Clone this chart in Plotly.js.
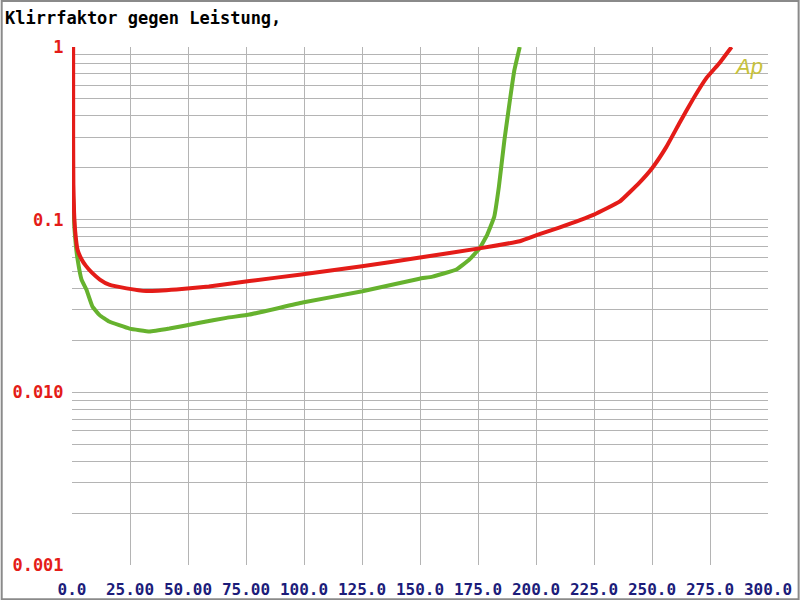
<!DOCTYPE html>
<html>
<head>
<meta charset="utf-8">
<script src="https://cdn.plot.ly/plotly-3.0.1.min.js"></script>
<style>html,body{margin:0;padding:0;background:#fff;}#chart{width:800px;height:600px;}</style>
</head>
<body>
<div id="chart"></div>
<script>
// Power (W) vs THD — red channel
const powerRed = [0.5, 0.5, 0.6, 0.9, 1.4, 2.4, 4.1, 6.0, 8.8, 12, 16, 23.5, 32, 45, 59, 76.5, 98, 125, 150, 175.6, 193, 201.5, 210, 225, 236, 244.6, 250.2, 256.2, 261.9, 267.5, 273.5, 279.1, 284.3];
const thdRed = [1.0, 0.3, 0.16, 0.11, 0.085, 0.067, 0.059, 0.054, 0.049, 0.045, 0.042, 0.040, 0.0386, 0.0394, 0.041, 0.0441, 0.048, 0.0537, 0.0603, 0.0682, 0.075, 0.0825, 0.09, 0.107, 0.127, 0.164, 0.20, 0.264, 0.364, 0.494, 0.662, 0.808, 1.0];
// green channel
const powerGreen = [0.3, 0.6, 1.1, 1.7, 2.4, 4.1, 6.2, 8.8, 11.9, 16, 24.8, 33.4, 42, 55, 66.6, 76.5, 99.4, 125.2, 149.8, 155.4, 165.7, 171.3, 175.6, 179, 182, 184, 186.4, 188.6, 190.7, 193];
const thdGreen = [0.155, 0.12, 0.087, 0.07, 0.059, 0.045, 0.0394, 0.0314, 0.028, 0.0257, 0.0234, 0.0225, 0.0234, 0.0253, 0.027, 0.0282, 0.0331, 0.0385, 0.0455, 0.0468, 0.0515, 0.0588, 0.068, 0.082, 0.104, 0.155, 0.29, 0.475, 0.736, 1.0];

const xTickVals = [0, 25, 50, 75, 100, 125, 150, 175, 200, 225, 250, 275, 300];
const xTickText = ["0.0", "25.00", "50.00", "75.00", "100.0", "125.0", "150.0", "175.0", "200.0", "225.0", "250.0", "275.0", "300.0"];
const yDecades = [0.001, 0.01, 0.1, 1];
const yDecadeText = ["0.001", "0.010", "0.1", "1"];

// build y grid (all 1..9 multiples) with labels only on decades
const yTickVals = [];
const yTickText = [];
for (let d = 0; d < yDecades.length; d++) {
  const base = yDecades[d];
  const maxM = (d === yDecades.length - 1) ? 1 : 9;
  for (let m = 1; m <= maxM; m++) {
    yTickVals.push(base * m);
    yTickText.push(m === 1 ? yDecadeText[d] : "");
  }
}

const traces = [
  {x: powerGreen, y: thdGreen, type: 'scatter', mode: 'lines',
   line: {color: '#66b22e', width: 4, shape: 'spline', smoothing: 0.3}, hoverinfo: 'skip'},
  {x: powerRed, y: thdRed, type: 'scatter', mode: 'lines',
   line: {color: '#e41c18', width: 4, shape: 'spline', smoothing: 0.3}, hoverinfo: 'skip'}
];

const layout = {
  width: 800, height: 600,
  margin: {l: 72, r: 32, t: 47, b: 35},
  paper_bgcolor: '#ffffff', plot_bgcolor: '#ffffff',
  showlegend: false,
  title: {text: 'Klirrfaktor gegen Leistung,', x: 5 / 800, xref: 'container', xanchor: 'left', y: 1 - 18 / 600, yref: 'container', yanchor: 'middle',
          font: {family: 'DejaVu Sans Mono', size: 17, color: '#000000', weight: 'bold'}},
  xaxis: {
    range: [0, 300], tickmode: 'array', tickvals: xTickVals, ticktext: xTickText,
    showgrid: true, gridcolor: '#b4b4b4', gridwidth: 1, zeroline: false, showline: false,
    ticks: 'outside', ticklen: 10, tickcolor: 'rgba(0,0,0,0)',
    tickfont: {family: 'DejaVu Sans Mono', size: 16, color: '#1c1c7a', weight: 'bold'}
  },
  yaxis: {
    type: 'log', range: [-3, 0], tickmode: 'array', tickvals: yTickVals, ticktext: yTickText,
    showgrid: true, gridcolor: '#b4b4b4', gridwidth: 1, zeroline: false, showline: false,
    ticks: 'outside', ticklen: 4, tickcolor: 'rgba(0,0,0,0)',
    tickfont: {family: 'DejaVu Sans Mono', size: 17, color: '#e41c18', weight: 'bold'}
  },
  shapes: [
    {type: 'rect', xref: 'paper', yref: 'paper', x0: -0.101, x1: 1.044, y0: -0.066, y1: 1.089,
     line: {color: '#8a8a8a', width: 2}, fillcolor: 'rgba(0,0,0,0)', layer: 'below'}
  ],
  annotations: [
    {text: 'Ap', xref: 'paper', yref: 'paper', x: 0.948, y: 0.963, xanchor: 'left', yanchor: 'middle',
     showarrow: false, font: {family: 'Liberation Sans', size: 22, color: '#c8c23c', style: 'italic'}}
  ]
};

Plotly.newPlot('chart', traces, layout, {staticPlot: true});
</script>
</body>
</html>
